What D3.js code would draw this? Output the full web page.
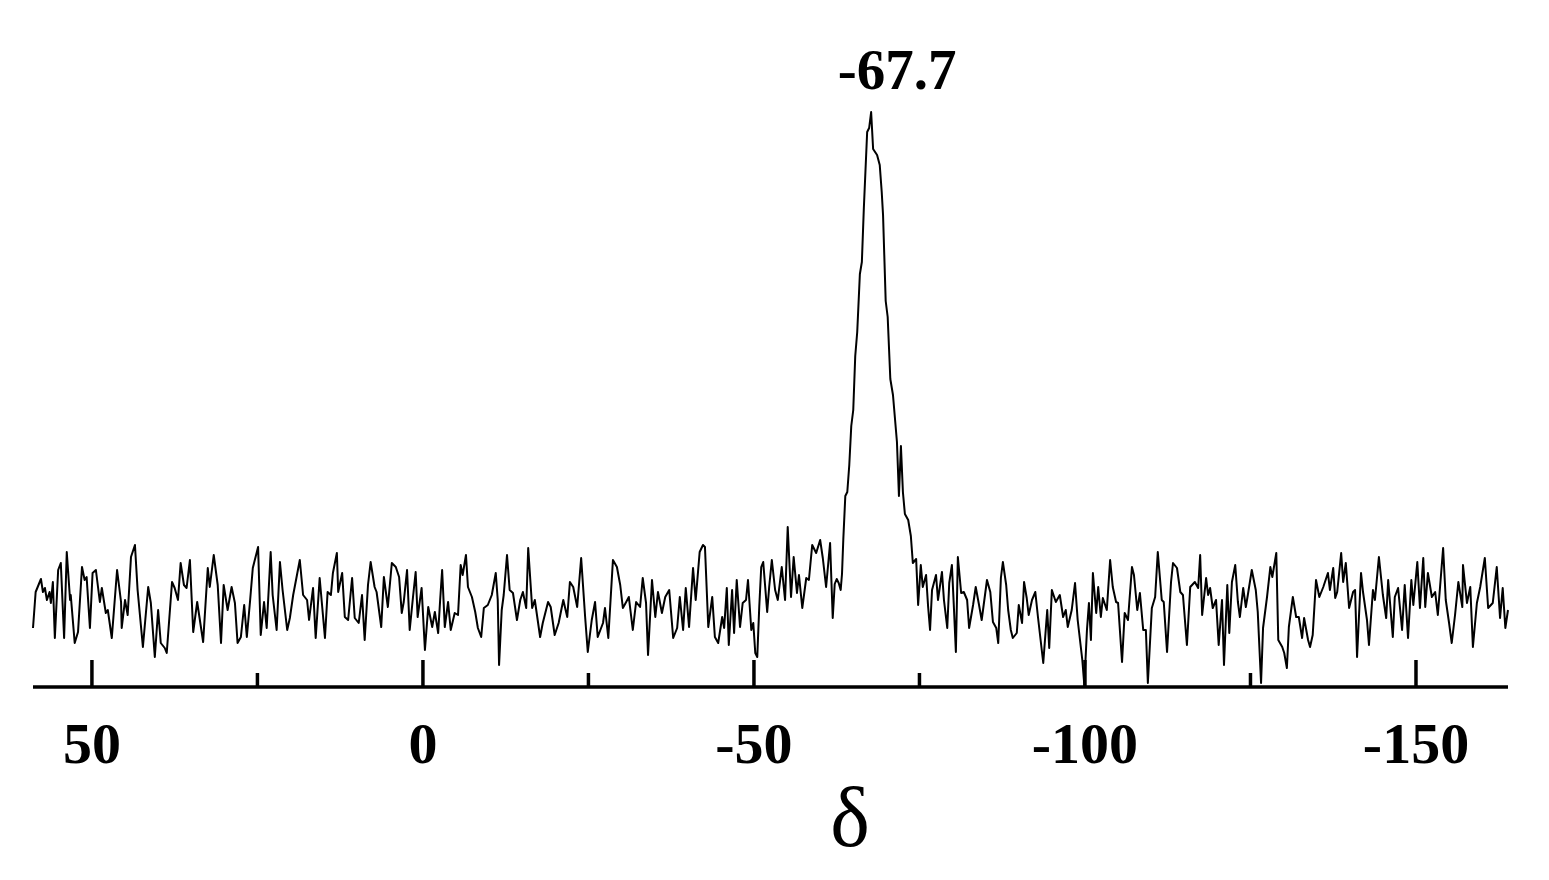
<!DOCTYPE html>
<html>
<head>
<meta charset="utf-8">
<script src="https://cdn.jsdelivr.net/npm/d3@7"></script>
<style>
  html, body { margin: 0; padding: 0; background: #ffffff; }
  svg { display: block; }
</style>
</head>
<body>
<svg id="chart" width="1549" height="880"></svg>
<script>
// ---- data (chemical shift δ, intensity in arbitrary units) ----
const xDomain = [58.9, -163.9];
const yDomain = [0, 115];
const majorTicks = [50, 0, -50, -100, -150];
const majorTickLabels = ["50", "0", "-50", "-100", "-150"];
const minorTicks = [25, -25, -75, -125];
const peakShift = -67.7;
const peakLabel = "-67.7";
const axisTitle = "δ";
const spectrum = [
[58.9,11.8],[58.5,19.0],[57.7,21.6],[57.4,19.0],[57.1,19.8],[56.8,17.4],[56.4,19.0],[56.2,16.8],[55.9,21.0],[55.6,9.8],
[55.1,23.4],[54.7,24.8],[54.2,9.8],[53.8,27.0],[53.3,17.4],[53.2,18.4],[52.6,8.8],[52.1,11.0],[51.5,24.0],[51.1,21.4],
[50.8,22.0],[50.3,11.8],[49.9,22.8],[49.4,23.4],[48.8,17.0],[48.5,19.8],[47.9,14.8],[47.6,15.4],[47.0,9.8],[46.2,23.4],
[45.6,17.0],[45.5,11.8],[45.0,17.4],[44.6,14.4],[44.1,26.0],[43.5,28.4],[43.1,19.4],[42.3,8.0],[41.5,20.0],[41.1,16.8],
[40.5,6.0],[40.0,15.4],[39.6,8.8],[39.0,7.8],[38.7,6.8],
[37.9,21.0],[37.5,19.8],[37.0,17.4],[36.6,24.8],[36.1,20.4],[35.7,19.8],[35.2,25.4],[34.7,11.0],[34.1,17.0],[33.2,9.0],
[32.5,23.8],[32.2,20.0],[31.6,26.4],[31.0,20.4],[30.5,8.8],[30.1,20.4],[29.5,15.4],[28.9,20.0],[28.4,16.8],[28.0,8.8],
[27.5,10.0],[27.0,16.4],[26.6,10.0],[26.1,17.4],[25.7,23.8],[24.9,28.0],[24.5,10.4],[24.0,17.0],[23.6,11.8],[23.0,27.0],
[22.7,18.4],[22.1,11.4],[21.6,25.0],[21.2,19.4],[20.5,11.4],[20.1,13.8],[19.6,18.4],[18.6,25.4],
[18.1,18.4],[17.5,17.4],[17.2,13.4],[16.6,19.8],[16.2,9.8],[15.6,21.8],[14.8,9.8],[14.4,19.0],[13.9,18.4],[13.6,22.8],
[13.0,26.8],[12.8,19.0],[12.2,22.8],[11.8,14.0],[11.3,13.4],[10.7,21.8],[10.3,13.8],[9.7,12.8],[9.2,18.4],[8.8,9.4],
[8.3,20.4],[7.9,25.0],[7.3,20.0],[7.0,19.0],[6.3,12.0],[5.9,22.0],[5.3,16.0],[4.7,24.8],[4.1,24.0],[3.6,22.0],
[3.2,14.8],[2.9,17.0],[2.4,23.4],[2.0,11.4],[1.5,18.0],[1.1,23.0],[0.8,14.0],[0.2,19.8],[-0.3,7.4],[-0.8,16.0],
[-1.4,12.0],[-1.8,15.0],
[-2.3,10.8],[-2.6,17.4],[-2.9,23.4],[-3.3,12.0],[-3.8,17.0],[-4.2,11.4],[-4.8,14.8],[-5.3,14.4],[-5.7,24.4],[-6.0,22.4],
[-6.5,26.4],[-6.8,20.0],[-7.4,18.0],[-7.9,15.0],[-8.3,11.8],[-8.8,10.0],[-9.2,15.8],[-9.8,16.4],[-10.4,18.4],[-11.0,22.8],
[-11.3,17.4],[-11.5,4.4],[-11.9,15.4],[-12.2,18.4],[-12.7,26.4],[-13.1,19.4],[-13.6,18.8],[-14.2,13.4],[-14.7,17.4],[-15.1,19.0],
[-15.6,15.8],[-15.9,27.8],[-16.5,15.8],[-16.9,17.4],[-17.7,10.0],[-18.1,12.8],[-18.9,17.0],[-19.3,16.0],[-19.9,10.4],[-20.5,12.8],
[-21.2,17.4],[-21.8,14.0],[-22.2,21.0],
[-22.7,20.0],[-23.3,16.0],[-23.9,25.8],[-24.5,14.0],[-24.9,7.0],[-25.5,13.4],[-26.0,17.0],[-26.4,10.0],[-27.2,12.8],[-27.5,15.8],
[-28.0,9.8],[-28.7,25.4],[-29.3,24.0],[-29.8,20.4],[-30.2,15.8],[-30.7,17.0],[-31.1,18.0],[-31.7,11.4],[-32.2,17.0],[-32.8,16.0],
[-33.2,21.8],[-33.7,16.8],[-34.0,6.4],[-34.6,21.4],[-35.1,14.0],[-35.5,19.0],[-36.1,14.8],[-36.6,18.0],[-37.2,19.4],[-37.8,9.8],
[-38.4,11.8],[-38.8,18.0],[-39.3,11.4],[-39.7,19.8],[-40.2,12.0],[-40.8,23.8],[-41.2,17.4],[-41.8,27.0],[-42.3,28.4],
[-42.6,28.0],[-43.1,12.0],[-43.7,18.0],[-44.1,10.0],[-44.6,8.8],[-45.2,14.0],[-45.5,11.8],[-45.9,19.8],[-46.2,8.4],[-46.7,19.4],
[-47.0,10.8],[-47.4,21.4],[-47.9,12.0],[-48.3,16.8],[-48.8,17.4],[-49.1,21.4],[-49.6,11.4],[-49.9,12.8],[-50.2,6.8],[-50.5,6.0],
[-50.8,16.0],[-51.1,24.0],[-51.4,25.0],[-52.0,15.0],[-52.3,20.0],[-52.7,25.4],[-53.2,19.4],[-53.6,17.4],[-54.2,24.0],[-54.7,17.4],
[-55.1,32.0],[-55.6,18.0],[-56.0,26.0],[-56.5,18.8],[-56.8,22.4],[-57.3,15.8],[-57.9,21.8],[-58.3,21.4],[-58.8,28.4],[-59.4,26.8],
[-60.0,29.4],[-60.4,25.8],[-60.9,20.0],[-61.5,28.8],[-61.9,13.8],[-62.2,20.6],[-62.5,21.6],[-62.8,20.8],[-63.1,19.4],[-63.3,22.6],
[-63.5,29.6],[-63.8,38.2],[-64.1,39.0],[-64.4,44.4],[-64.7,52.2],[-65.0,55.4],[-65.3,66.2],[-65.6,71.0],[-66.0,82.6],[-66.3,85.0],
[-66.6,95.8],[-67.1,111.0],[-67.4,111.8],[-67.7,115.0],[-68.0,107.6],[-68.6,106.4],[-69.0,104.4],[-69.3,99.0],[-69.5,94.4],[-69.9,77.2],
[-70.2,74.0],[-70.6,61.6],[-71.0,58.4],[-71.6,49.0],[-71.9,38.2],[-72.2,48.2],[-72.5,39.0],[-72.8,34.6],[-73.3,33.4],[-73.7,30.2],
[-74.0,24.8],[-74.5,25.6],[-74.8,16.4],[-75.2,24.4],[-75.5,20.0],[-76.0,22.4],[-76.3,16.2],
[-76.6,11.4],[-76.9,19.4],[-77.5,22.4],[-77.8,17.4],[-78.4,23.0],[-78.7,17.4],[-79.2,11.8],[-79.5,20.8],[-79.9,24.4],[-80.2,16.0],
[-80.5,7.0],[-80.8,26.0],[-81.3,18.8],[-81.7,19.0],[-82.2,17.4],[-82.5,11.8],[-83.1,16.4],[-83.5,20.0],[-84.0,16.4],[-84.4,13.4],
[-85.2,21.4],[-85.7,19.0],[-86.1,13.0],[-86.6,11.8],[-86.9,8.8],[-87.3,21.8],[-87.6,25.0],[-88.1,20.4],[-88.4,15.4],[-88.8,11.4],
[-89.1,9.8],[-89.7,10.8],[-90.0,16.4],[-90.5,12.8],[-90.8,21.0],[-91.2,17.8],[-91.5,14.4],[-92.0,17.4],[-92.5,19.0],[-92.9,14.0],
[-93.7,4.8],[-94.3,15.4],[-94.6,7.8],[-95.0,19.4],[-95.6,17.0],[-96.2,18.4],
[-96.7,14.0],[-97.1,15.4],[-97.4,12.0],[-98.0,15.4],[-98.5,20.8],[-98.9,13.4],[-99.6,5.4],[-99.9,0.4],[-100.3,11.4],[-100.6,16.8],
[-100.9,9.4],[-101.2,22.8],[-101.7,14.8],[-102.0,20.0],[-102.4,14.0],[-102.7,17.8],[-103.3,15.4],[-103.8,25.4],[-104.2,20.0],[-104.7,17.0],
[-105.0,16.8],[-105.6,5.0],[-106.0,14.8],[-106.5,13.4],[-107.1,24.0],[-107.4,22.4],[-107.9,15.4],[-108.3,18.8],[-108.8,11.4],[-109.2,11.4],
[-109.5,0.8],[-110.1,15.8],[-110.6,18.0],[-111.0,27.0],[-111.6,17.4],[-111.9,17.0],[-112.4,7.0],[-113.0,21.0],[-113.3,24.8],[-113.9,23.8],
[-114.4,19.0],[-114.8,18.4],[-115.4,8.4],[-115.9,20.0],[-116.6,21.0],
[-117.1,19.8],[-117.4,26.4],[-117.7,14.4],[-118.3,21.8],[-118.6,18.4],[-118.9,19.8],[-119.3,15.8],[-119.8,17.4],[-120.2,8.4],[-120.7,17.4],
[-121.0,4.4],[-121.5,20.4],[-121.8,10.8],[-122.2,21.0],[-122.7,24.4],[-123.1,17.0],[-123.4,14.0],[-123.9,19.8],[-124.3,16.0],[-124.6,18.4],
[-125.2,23.4],[-125.8,19.4],[-126.1,15.0],[-126.6,0.8],[-126.9,11.8],[-127.5,18.0],[-128.0,24.0],[-128.3,22.0],[-128.9,26.8],[-129.2,9.4],
[-129.8,8.0],[-130.1,6.8],[-130.5,3.8],[-130.8,12.0],[-131.4,18.0],[-131.9,14.0],[-132.3,14.0],[-132.8,9.8],[-133.1,13.8],[-133.7,9.4],
[-134.0,8.0],[-134.4,10.4],[-134.9,21.4],[-135.4,18.0],[-136.0,20.0],[-136.7,22.8],[-137.0,19.4],
[-137.5,23.8],[-137.8,17.8],[-138.1,19.0],[-138.7,26.8],[-139.0,21.0],[-139.4,24.8],[-139.9,15.8],[-140.5,19.0],[-140.8,19.4],[-141.1,6.0],
[-141.7,22.8],[-142.0,19.0],[-142.6,13.4],[-142.9,8.4],[-143.5,19.4],[-143.8,17.4],[-144.4,26.0],[-145.0,18.4],[-145.5,13.8],[-145.8,21.4],
[-146.5,10.0],[-146.8,18.0],[-147.3,19.8],[-147.9,11.4],[-148.3,20.4],[-148.8,9.8],[-149.3,21.4],[-149.6,16.4],[-150.2,25.0],[-150.6,15.8],
[-151.1,25.8],[-151.4,16.0],[-151.8,22.8],[-152.4,18.0],[-152.9,19.0],[-153.3,14.4],[-154.1,27.8],[-154.5,17.4],[-155.0,12.8],[-155.4,8.8],
[-155.9,14.4],[-156.4,21.0],[-157.0,16.0],[-157.1,24.4],[-157.7,16.8],[-158.2,20.0],[-158.6,8.0],[-159.2,16.8],[-159.7,20.0],[-160.4,25.8],
[-160.9,15.8],[-161.6,16.8],[-162.2,24.0],[-162.7,13.8],[-163.1,19.8],[-163.5,11.8],[-163.9,15.4]
];

// ---- drawing ----
const svg = d3.select("#chart");
const x = d3.scaleLinear().domain(xDomain).range([33, 1508]);
const y = d3.scaleLinear().domain(yDomain).range([687, 112]);

svg.append("rect").attr("width", 1549).attr("height", 880).attr("fill", "#ffffff");

const line = d3.line().x(d => x(d[0])).y(d => y(d[1]));
svg.append("path")
  .datum(spectrum)
  .attr("d", line)
  .attr("fill", "none")
  .attr("stroke", "#000")
  .attr("stroke-width", 2)
  .attr("stroke-linejoin", "round");

// axis
const axisG = svg.append("g").attr("transform", `translate(0,${y(0)})`);
axisG.append("line")
  .attr("x1", x(xDomain[0])).attr("x2", x(xDomain[1]))
  .attr("y1", 0).attr("y2", 0)
  .attr("stroke", "#000").attr("stroke-width", 3.5);

axisG.selectAll("line.major").data(majorTicks).enter().append("line")
  .attr("class", "major")
  .attr("x1", d => x(d)).attr("x2", d => x(d))
  .attr("y1", 0).attr("y2", -27)
  .attr("stroke", "#000").attr("stroke-width", 3.5);

axisG.selectAll("line.minor").data(minorTicks).enter().append("line")
  .attr("class", "minor")
  .attr("x1", d => x(d)).attr("x2", d => x(d))
  .attr("y1", 0).attr("y2", -14)
  .attr("stroke", "#000").attr("stroke-width", 3.5);

axisG.selectAll("text.tl").data(majorTicks).enter().append("text")
  .attr("class", "tl")
  .attr("x", d => x(d))
  .attr("y", 76)
  .attr("text-anchor", "middle")
  .attr("font-family", "'Liberation Serif', 'Times New Roman', serif")
  .attr("font-weight", "bold")
  .attr("font-size", 58)
  .attr("fill", "#000")
  .text((d, i) => majorTickLabels[i]);

// axis title
svg.append("text")
  .attr("x", x(-64.5))
  .attr("y", 846)
  .attr("text-anchor", "middle")
  .attr("font-family", "'Liberation Serif', 'Times New Roman', serif")
  .attr("font-size", 84)
  .attr("fill", "#000")
  .text(axisTitle);

// peak label
svg.append("text")
  .attr("x", x(peakShift) + 26)
  .attr("y", 89)
  .attr("text-anchor", "middle")
  .attr("font-family", "'Liberation Serif', 'Times New Roman', serif")
  .attr("font-weight", "bold")
  .attr("font-size", 57)
  .attr("fill", "#000")
  .text(peakLabel);
</script>
</body>
</html>
